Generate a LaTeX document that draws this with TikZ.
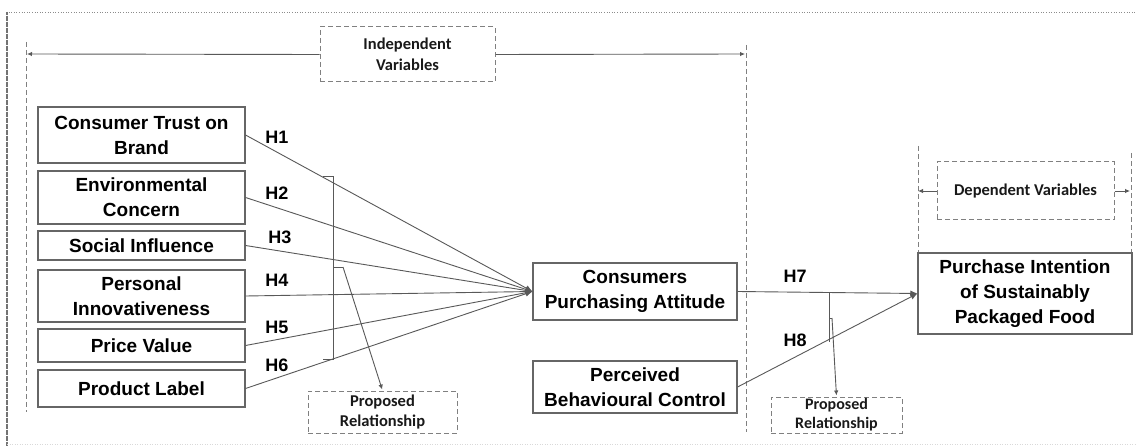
\documentclass[tikz,border=0pt]{standalone}
\usepackage{fontspec}
\setmainfont{Liberation Sans}
\newfontfamily\smallfont{Carlito}
\usetikzlibrary{arrows.meta}
\begin{document}
\begin{tikzpicture}[x=1pt,y=-1pt,
  var/.style={draw=black!60, line width=1.1pt, align=center, text=black,
    font=\fontsize{19}{25}\selectfont\bfseries, inner sep=0pt},
  lbl/.style={dashed box, align=center, text=black!90,
    font=\smallfont\fontsize{16.5}{21}\selectfont\bfseries, inner sep=0pt},
  dashed box/.style={draw=black!50, line width=1pt, dash pattern=on 5pt off 3pt},
  guide/.style={draw=black!50, line width=1pt, dash pattern=on 5pt off 3pt},
  hyp/.style={font=\fontsize{18}{20}\selectfont\bfseries, text=black, inner sep=0pt},
  conn/.style={draw=black!65, line width=0.9pt},
  tip/.style={-{Latex[length=7pt,width=6pt]}},
  smalltip/.style={-{Latex[length=5pt,width=4.5pt]}}
]
\useasboundingbox (0,0) rectangle (1137,446);
\fill[white] (0,0) rectangle (1137,446);
% frame
\draw[black!45, line width=0.6pt, dotted] (6,12) -- (1137,12);
\draw[black!55, line width=2pt, dash pattern=on 0.6pt off 0.6pt] (7,12) -- (7,446);
\draw[black!15, line width=0.5pt, dotted] (7,444) -- (1137,444);

% dashed guides
\draw[guide] (26,42) -- (26,412);
\draw[guide] (746,45) -- (746,432);
\draw[guide] (918,146) -- (918,253);
\draw[guide] (1131,153) -- (1131,253);

% independent variables
\node[lbl, minimum width=175pt, minimum height=55pt] (IV) at (407.5,54.5) {Independent\\Variables};
\coordinate (ivL) at (27,54);
\coordinate (ivR) at (745,54);
\draw[conn, smalltip] (IV.west) -- (ivL);
\draw[conn, smalltip] (IV.east) -- (ivR);

% dependent variables
\node[lbl, minimum width=177pt, minimum height=58pt] (DV) at (1025.5,191) {Dependent Variables};
\coordinate (dvL) at (918,191);
\coordinate (dvR) at (1130,191);
\draw[conn, smalltip] (DV.west) -- (dvL);
\draw[conn, smalltip] (DV.east) -- (dvR);

% left variables
\node[var, minimum width=207pt, minimum height=56pt] (CTB) at (141.5,135) {Consumer Trust on\\Brand};
\node[var, minimum width=207pt, minimum height=53pt] (EC) at (141.5,197.5) {Environmental\\Concern};
\node[var, minimum width=207pt, minimum height=29pt] (SI) at (141.5,245.5) {Social Influence};
\node[var, minimum width=207pt, minimum height=52pt] (PI) at (141.5,296) {Personal\\Innovativeness};
\node[var, minimum width=207pt, minimum height=33pt] (PV) at (141.5,345.5) {Price Value};
\node[var, minimum width=207pt, minimum height=37pt] (PL) at (141.5,388.5) {Product Label};

% middle
\node[var, minimum width=204pt, minimum height=57pt] (CPA) at (635,291.5) {Consumers\\Purchasing Attitude};
\node[var, minimum width=204pt, minimum height=52pt] (PBC) at (635,387) {Perceived\\Behavioural Control};

% right
\node[var, minimum width=214pt, minimum height=81pt] (PIS) at (1025,293.5) {Purchase Intention\\of Sustainably\\Packaged Food};

% hypotheses connectors
\draw[conn, tip] (CTB.east) -- (CPA.west);
\draw[conn, tip] (EC.east) -- (CPA.west);
\draw[conn, tip] (SI.east) -- (CPA.west);
\draw[conn, tip] (PI.east) -- (CPA.west);
\draw[conn, tip] (PV.east) -- (CPA.west);
\draw[conn, tip] (PL.east) -- (CPA.west);
\draw[conn, tip] (CPA.east) -- (PIS.west);
\draw[conn, tip] (PBC.east) -- (PIS.west);

\node[hyp] (h1) at (277,137) {H1};
\node[hyp] (h2) at (277,193) {H2};
\node[hyp] (h3) at (280,237) {H3};
\node[hyp] (h4) at (277,280) {H4};
\node[hyp] (h5) at (277,327) {H5};
\node[hyp] (h6) at (277,365) {H6};
\node[hyp] (h7) at (795,276) {H7};
\node[hyp] (h8) at (795,340) {H8};

% proposed relationship boxes
\node[lbl, font=\smallfont\fontsize{16.5}{20}\selectfont\bfseries, minimum width=149pt, minimum height=42pt] (PR1) at (382.5,412) {Proposed\\Relationship};
\node[lbl, font=\smallfont\fontsize{16}{19}\selectfont\bfseries, minimum width=131pt, minimum height=36pt] (PR2) at (836.5,415) {Proposed\\Relationship};

% bracket 1
\coordinate (b1t) at (323,176);
\coordinate (b1b) at (323,359);
\coordinate (b1m) at (343,267);
\draw[conn] (b1t) -- (333,176) -- (333,359) -- (b1b);
\draw[conn] (333,267) -- (b1m);
\draw[conn, smalltip, shorten >=1pt] (b1m) -- (PR1.north);

% bracket 2
\coordinate (b2t) at (829,293);
\coordinate (b2m) at (832,318);
\draw[conn] (b2t) -- (829,342);
\draw[conn] (829,318) -- (b2m);
\draw[conn, smalltip, shorten >=1pt] (b2m) -- (PR2.north);
\end{tikzpicture}
\end{document}
